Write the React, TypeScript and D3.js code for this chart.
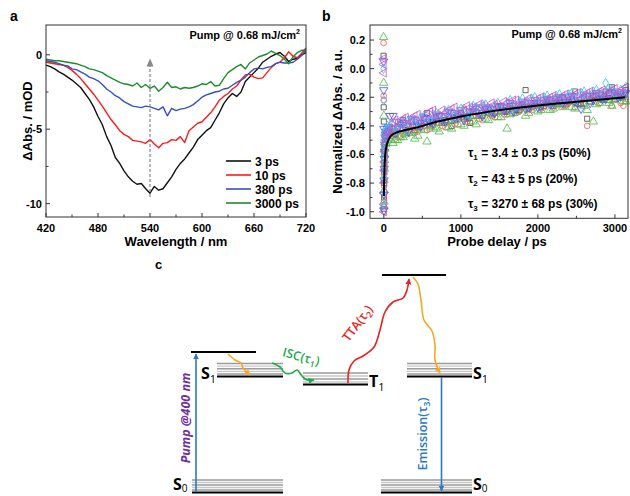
import React from 'react';
import * as d3 from 'd3';

// ---------- Panel a data ----------
const wavelengths = [420,425,430,435,440,445,450,455,460,465,470,475,480,485,490,495,500,505,510,515,520,525,530,535,540,545,550,555,560,565,570,575,580,585,590,595,600,605,610,615,620,625,630,635,640,645,650,655,660,665,670,675,680,685,690,695,700,705,710,715,720];
const abs3ps = [-0.7,-0.8,-0.95,-1.15,-1.3,-1.5,-1.7,-1.95,-2.2,-2.6,-3.0,-3.5,-4.15,-4.7,-5.5,-6.1,-6.9,-7.3,-7.8,-8.2,-8.5,-8.7,-8.65,-9.0,-9.3,-8.85,-9.1,-9.0,-8.6,-8.2,-7.7,-7.3,-7.0,-6.6,-6.2,-5.7,-5.4,-5.1,-4.9,-4.4,-3.9,-3.3,-2.9,-2.6,-2.8,-2.5,-1.8,-1.5,-1.2,-0.9,-0.5,-0.3,-0.1,0.05,0.15,-0.1,-0.45,-0.3,-0.25,0.0,0.15];
const abs10ps = [-0.5,-0.55,-0.6,-0.65,-0.7,-0.85,-1.05,-1.3,-1.6,-1.95,-2.3,-2.65,-3.05,-3.45,-3.9,-4.35,-4.7,-5.1,-5.35,-5.5,-5.75,-5.8,-5.85,-5.95,-5.7,-6.0,-6.25,-5.95,-5.9,-5.7,-5.75,-5.5,-5.9,-5.1,-4.85,-4.6,-4.5,-4.2,-3.9,-3.5,-3.05,-2.8,-2.6,-2.3,-2.1,-1.7,-1.35,-1.3,-1.5,-1.6,-1.55,-1.2,-0.85,-0.6,-0.5,-0.2,0.2,-0.1,-0.2,0.1,0.45];
const abs380ps = [-0.4,-0.45,-0.5,-0.6,-0.7,-0.75,-0.95,-1.0,-1.15,-1.3,-1.5,-1.6,-1.75,-2.0,-2.3,-2.5,-2.75,-2.9,-3.15,-3.3,-3.45,-3.5,-3.55,-3.45,-3.5,-3.6,-3.7,-3.5,-4.1,-3.6,-3.75,-3.65,-3.6,-3.5,-3.35,-3.1,-2.85,-2.7,-2.6,-2.5,-2.45,-2.3,-2.25,-2.05,-1.85,-1.7,-1.5,-1.2,-0.95,-0.9,-0.95,-0.85,-0.8,-0.6,-0.5,-0.55,-0.55,-0.5,-0.3,-0.05,0.3];
const abs3000ps = [-0.3,-0.35,-0.4,-0.4,-0.45,-0.5,-0.55,-0.6,-0.7,-0.8,-0.95,-1.0,-1.1,-1.2,-1.4,-1.55,-1.7,-1.85,-1.95,-2.0,-2.1,-1.9,-2.2,-2.0,-2.25,-2.1,-2.45,-2.2,-1.85,-2.2,-2.15,-2.3,-2.2,-2.25,-2.2,-2.1,-1.95,-2.0,-1.8,-2.1,-2.05,-1.6,-1.2,-1.0,-0.8,-0.65,-0.95,-0.55,-0.35,-0.15,-0.05,0.05,0.25,0.1,-0.05,-0.3,-0.6,-0.15,0.15,0.3,0.3];
const seriesA = [
  { label: '3 ps', values: abs3ps, color: '#111111' },
  { label: '10 ps', values: abs10ps, color: '#ff1a1a' },
  { label: '380 ps', values: abs380ps, color: '#3550c0' },
  { label: '3000 ps', values: abs3000ps, color: '#1f8a2e' },
];
const xTicksA = [420, 480, 540, 600, 660, 720];
const xMinorA = [450, 510, 570, 630, 690];
const yTicksA = [0, -5, -10];
const yMinorA = [-2.5, -7.5];
const arrowWavelength = 540;
const arrowRange = [-9.55, -0.25];

// ---------- Panel b data ----------
const delays = [-4,-2,0,1,2,3,4,6,8,10,15,20,30,45,60,80,120,180,250,320,400,480,560,640,720,800,880,960,1040,1120,1200,1280,1360,1440,1520,1600,1680,1760,1840,1920,2000,2080,2160,2240,2320,2400,2480,2560,2640,2720,2800,2880,2960,3040,3110];
const kinBlack = [0.09,-0.27,-0.37,-0.98,-0.9,-0.8,-0.72,-0.66,-0.6,-0.55,-0.5,-0.47,-0.45,-0.44,-0.43,-0.41,-0.44,-0.41,-0.36,-0.40,-0.43,-0.38,-0.31,-0.37,-0.33,-0.36,-0.40,-0.32,-0.34,-0.38,-0.30,-0.33,-0.29,-0.31,-0.27,-0.30,-0.26,-0.29,-0.15,-0.27,-0.24,-0.26,-0.22,-0.25,-0.20,-0.23,-0.16,-0.24,-0.35,-0.19,-0.21,-0.16,-0.13,-0.18,-0.20];
const kinRed = [0.18,-0.19,-0.22,-1.0,-0.92,-0.82,-0.74,-0.68,-0.62,-0.57,-0.52,-0.49,-0.47,-0.46,-0.45,-0.44,-0.47,-0.44,-0.46,-0.43,-0.45,-0.41,-0.43,-0.40,-0.38,-0.41,-0.36,-0.39,-0.35,-0.37,-0.33,-0.36,-0.31,-0.34,-0.30,-0.32,-0.28,-0.30,-0.26,-0.29,-0.25,-0.27,-0.23,-0.20,-0.26,-0.24,-0.27,-0.25,-0.40,-0.18,-0.24,-0.21,-0.26,-0.19,-0.26];
const kinGreen = [0.22,-0.1,-0.33,-0.96,-0.93,-0.85,-0.78,-0.7,-0.64,-0.6,-0.56,-0.53,-0.52,-0.5,-0.49,-0.47,-0.52,-0.50,-0.48,-0.45,-0.49,-0.42,-0.51,-0.41,-0.44,-0.37,-0.42,-0.35,-0.40,-0.33,-0.39,-0.31,-0.36,-0.30,-0.34,-0.42,-0.31,-0.28,-0.33,-0.26,-0.30,-0.25,-0.29,-0.24,-0.27,-0.23,-0.28,-0.25,-0.29,-0.37,-0.24,-0.22,-0.26,-0.20,-0.23];
const kinBlue = [0.05,-0.15,-0.42,-0.99,-0.88,-0.78,-0.7,-0.63,-0.58,-0.53,-0.48,-0.46,-0.44,-0.42,-0.41,-0.33,-0.33,-0.42,-0.38,-0.44,-0.36,-0.40,-0.35,-0.38,-0.33,-0.37,-0.31,-0.34,-0.36,-0.30,-0.27,-0.33,-0.28,-0.31,-0.26,-0.29,-0.30,-0.25,-0.28,-0.24,-0.27,-0.22,-0.25,-0.21,-0.24,-0.20,-0.23,-0.28,-0.19,-0.22,-0.18,-0.21,-0.17,-0.20,-0.18];
const kinCyan = [0.0,-0.22,-0.45,-0.97,-0.86,-0.76,-0.69,-0.62,-0.57,-0.52,-0.49,-0.45,-0.43,-0.4,-0.42,-0.4,-0.40,-0.43,-0.39,-0.36,-0.38,-0.34,-0.37,-0.32,-0.35,-0.30,-0.34,-0.31,-0.28,-0.32,-0.27,-0.25,-0.29,-0.26,-0.28,-0.24,-0.27,-0.23,-0.25,-0.21,-0.24,-0.20,-0.23,-0.19,-0.22,-0.18,-0.21,-0.17,-0.20,-0.16,-0.19,-0.10,-0.15,-0.18,-0.16];
const kinMagenta = [0.07,0.03,-0.03,-1.0,-0.95,-0.87,-0.8,-0.71,-0.65,-0.58,-0.53,-0.5,-0.48,-0.45,-0.44,-0.42,-0.38,-0.40,-0.35,-0.39,-0.33,-0.37,-0.32,-0.29,-0.34,-0.31,-0.28,-0.33,-0.29,-0.27,-0.31,-0.26,-0.29,-0.25,-0.28,-0.24,-0.22,-0.27,-0.23,-0.25,-0.21,-0.24,-0.20,-0.23,-0.19,-0.22,-0.18,-0.21,-0.17,-0.20,-0.16,-0.19,-0.15,-0.17,-0.14];
// second (interleaved) set of delays and readings
const delays2 = [150,215,285,360,440,520,600,680,760,840,920,1000,1080,1160,1240,1320,1400,1480,1560,1640,1720,1800,1880,1960,2040,2120,2200,2280,2360,2440,2520,2600,2680,2760,2840,2920,3000,3075,3140];
const kinBlack2 = [-0.46,-0.39,-0.43,-0.37,-0.41,-0.35,-0.39,-0.34,-0.38,-0.33,-0.36,-0.31,-0.35,-0.30,-0.33,-0.28,-0.32,-0.27,-0.30,-0.26,-0.29,-0.25,-0.28,-0.24,-0.27,-0.23,-0.26,-0.22,-0.25,-0.21,-0.24,-0.20,-0.23,-0.19,-0.22,-0.17,-0.21,-0.19,-0.15];
const kinRed2 = [-0.49,-0.47,-0.44,-0.42,-0.44,-0.40,-0.42,-0.38,-0.40,-0.37,-0.39,-0.34,-0.37,-0.33,-0.35,-0.31,-0.33,-0.30,-0.32,-0.28,-0.31,-0.27,-0.29,-0.26,-0.28,-0.24,-0.27,-0.23,-0.26,-0.22,-0.25,-0.24,-0.21,-0.23,-0.20,-0.22,-0.19,-0.24,-0.21];
const kinGreen2 = [-0.50,-0.48,-0.46,-0.44,-0.47,-0.43,-0.40,-0.42,-0.38,-0.41,-0.36,-0.39,-0.34,-0.37,-0.33,-0.35,-0.31,-0.34,-0.29,-0.32,-0.30,-0.27,-0.31,-0.26,-0.29,-0.24,-0.28,-0.25,-0.22,-0.27,-0.24,-0.26,-0.23,-0.25,-0.21,-0.24,-0.22,-0.20,-0.23];
const kinBlue2 = [-0.45,-0.37,-0.41,-0.35,-0.39,-0.34,-0.37,-0.32,-0.36,-0.30,-0.34,-0.29,-0.33,-0.28,-0.31,-0.27,-0.30,-0.26,-0.29,-0.24,-0.28,-0.23,-0.27,-0.22,-0.26,-0.21,-0.24,-0.20,-0.23,-0.19,-0.22,-0.18,-0.24,-0.17,-0.21,-0.18,-0.16,-0.19,-0.17];
const kinCyan2 = [-0.41,-0.38,-0.42,-0.35,-0.37,-0.33,-0.36,-0.31,-0.34,-0.29,-0.32,-0.28,-0.31,-0.26,-0.30,-0.25,-0.28,-0.24,-0.27,-0.22,-0.26,-0.21,-0.24,-0.20,-0.23,-0.19,-0.22,-0.18,-0.21,-0.17,-0.20,-0.16,-0.19,-0.15,-0.18,-0.14,-0.17,-0.15,-0.13];
const kinMagenta2 = [-0.36,-0.39,-0.34,-0.37,-0.32,-0.36,-0.30,-0.34,-0.29,-0.32,-0.27,-0.31,-0.26,-0.29,-0.25,-0.28,-0.24,-0.27,-0.23,-0.26,-0.22,-0.25,-0.21,-0.24,-0.20,-0.23,-0.19,-0.22,-0.18,-0.21,-0.17,-0.20,-0.16,-0.19,-0.15,-0.18,-0.14,-0.17,-0.13];
const seriesB = [
  { values: kinBlack, values2: kinBlack2, color: '#444444', shape: 'square' },
  { values: kinRed, values2: kinRed2, color: '#ff5555', shape: 'circle' },
  { values: kinGreen, values2: kinGreen2, color: '#44bb44', shape: 'up' },
  { values: kinBlue, values2: kinBlue2, color: '#4b4bff', shape: 'down' },
  { values: kinCyan, values2: kinCyan2, color: '#30c8ee', shape: 'diamond' },
  { values: kinMagenta, values2: kinMagenta2, color: '#cc55cc', shape: 'left' },
];
const fitDelay = [0, 3, 8, 15, 30, 60, 100, 200, 400, 700, 1000, 1500, 2000, 2500, 3000, 3130];
const fitValue = [-0.89, -0.8, -0.7, -0.62, -0.55, -0.5, -0.465, -0.44, -0.415, -0.37, -0.335, -0.29, -0.258, -0.232, -0.207, -0.2];
const xTicksB = [0, 1000, 2000, 3000];
const xMinorB = [500, 1500, 2500];
const yTicksB = [0.2, 0.0, -0.2, -0.4, -0.6, -0.8, -1.0];
const yMinorB = [0.1, -0.1, -0.3, -0.5, -0.7, -0.9];
const tauLabels = [
  { sub: '1', text: ' = 3.4 \u00b1 0.3 ps (50%)' },
  { sub: '2', text: ' = 43 \u00b1 5 ps (20%)' },
  { sub: '3', text: ' = 3270 \u00b1 68 ps (30%)' },
];

const FONT = '"Liberation Sans", Arial, sans-serif';
const CFONT = '"Open Sans", "Noto Sans", sans-serif';

function PanelA() {
  const x = d3.scaleLinear().domain([420, 720]).range([46, 306]);
  const y = d3.scaleLinear().domain([2, -10.9]).range([25, 217]);
  const [x0, x1] = x.range();
  const [y0, y1] = y.range();
  const line = d3.line<number>().x((_, i) => x(wavelengths[i])).y((d) => y(d));
  return (
    <g fontFamily={FONT}>
      <text x={10} y={21} fontSize={14} fontWeight="bold">a</text>
      {seriesA.map((s) => (
        <path key={s.label} d={line(s.values) || ''} fill="none" stroke={s.color} strokeWidth={1.4} strokeLinejoin="round" />
      ))}
      <line x1={x(arrowWavelength)} x2={x(arrowWavelength)} y1={y(arrowRange[0])} y2={y(arrowRange[1]) + 6} stroke="#888" strokeWidth={1.2} strokeDasharray="3,2" />
      <path d={`M${x(arrowWavelength)},${y(arrowRange[1])} l-3.5,8 l7,0 z`} fill="#888" />
      <rect x={x0} y={y0} width={x1 - x0} height={y1 - y0} fill="none" stroke="#333" strokeWidth={1} />
      {xTicksA.map((t) => (
        <g key={t}>
          <line x1={x(t)} x2={x(t)} y1={y1} y2={y1 - 4} stroke="#333" />
          <text x={x(t)} y={232} fontSize={11} fontWeight="bold" textAnchor="middle">{t}</text>
        </g>
      ))}
      {xMinorA.map((t) => (
        <line key={t} x1={x(t)} x2={x(t)} y1={y1} y2={y1 - 2.5} stroke="#333" />
      ))}
      {yTicksA.map((t) => (
        <g key={t}>
          <line x1={x0} x2={x0 + 4} y1={y(t)} y2={y(t)} stroke="#333" />
          <text x={42} y={y(t) + 4} fontSize={11} fontWeight="bold" textAnchor="end">{t === 0 ? '0' : '-' + Math.abs(t)}</text>
        </g>
      ))}
      {yMinorA.map((t) => (
        <line key={t} x1={x0} x2={x0 + 2.5} y1={y(t)} y2={y(t)} stroke="#333" />
      ))}
      <text x={(x0 + x1) / 2} y={246} fontSize={13} fontWeight="bold" textAnchor="middle">Wavelength / nm</text>
      <text transform={`translate(32,${(y0 + y1) / 2}) rotate(-90)`} fontSize={13} fontWeight="bold" textAnchor="middle">{'\u0394Abs. / mOD'}</text>
      <text x={300} y={39} fontSize={11} fontWeight="bold" textAnchor="end">Pump @ 0.68 mJ/cm<tspan dy={-5} fontSize={7}>2</tspan></text>
      {seriesA.map((s, i) => (
        <g key={s.label}>
          <line x1={226} x2={251} y1={161 + i * 14} y2={161 + i * 14} stroke={s.color} strokeWidth={1.6} />
          <text x={255} y={165.5 + i * 14} fontSize={12} fontWeight="bold">{s.label}</text>
        </g>
      ))}
    </g>
  );
}

function symbolPath(shape: string) {
  switch (shape) {
    case 'square': return { d: d3.symbol(d3.symbolSquare, 26)() || '', r: 0 };
    case 'circle': return { d: d3.symbol(d3.symbolCircle, 26)() || '', r: 0 };
    case 'up': return { d: d3.symbol(d3.symbolTriangle, 30)() || '', r: 0 };
    case 'down': return { d: d3.symbol(d3.symbolTriangle, 30)() || '', r: 180 };
    case 'diamond': return { d: d3.symbol(d3.symbolDiamond, 26)() || '', r: 0 };
    default: return { d: d3.symbol(d3.symbolTriangle, 30)() || '', r: -90 };
  }
}

function PanelB() {
  const x = d3.scaleLinear().domain([-180, 3170]).range([370, 628]);
  const y = d3.scaleLinear().domain([0.305, -1.046]).range([25, 218.3]);
  const [x0, x1] = x.range();
  const [y0, y1] = y.range();
  const fit = d3.line<number>().x((_, i) => x(fitDelay[i])).y((d) => y(d)).curve(d3.curveMonotoneX);
  return (
    <g fontFamily={FONT}>
      <text x={322} y={21} fontSize={14} fontWeight="bold">b</text>
      {seriesB.map((s, si) => {
        const sym = symbolPath(s.shape);
        return (
          <g key={si}>
            {s.values.map((v, i) => (
              <path key={'a' + i} d={sym.d} transform={`translate(${x(delays[i])},${y(v)}) rotate(${sym.r})`} fill="none" stroke={s.color} strokeWidth={0.8} />
            ))}
            {s.values2.map((v, i) => (
              <path key={'b' + i} d={sym.d} transform={`translate(${x(delays2[i])},${y(v)}) rotate(${sym.r})`} fill="none" stroke={s.color} strokeWidth={0.8} />
            ))}
          </g>
        );
      })}
      <path d={fit(fitValue) || ''} fill="none" stroke="#000" strokeWidth={2} />
      <rect x={x0} y={y0} width={x1 - x0} height={y1 - y0} fill="none" stroke="#333" strokeWidth={1} />
      {xTicksB.map((t) => (
        <g key={t}>
          <line x1={x(t)} x2={x(t)} y1={y1} y2={y1 - 4} stroke="#333" />
          <text x={x(t)} y={232} fontSize={11} fontWeight="bold" textAnchor="middle">{t}</text>
        </g>
      ))}
      {xMinorB.map((t) => (
        <line key={t} x1={x(t)} x2={x(t)} y1={y1} y2={y1 - 2.5} stroke="#333" />
      ))}
      {yTicksB.map((t) => (
        <g key={t}>
          <line x1={x0} x2={x0 + 4} y1={y(t)} y2={y(t)} stroke="#333" />
          <text x={365} y={y(t) + 4} fontSize={11} fontWeight="bold" textAnchor="end">{t.toFixed(1)}</text>
        </g>
      ))}
      {yMinorB.map((t) => (
        <line key={t} x1={x0} x2={x0 + 2.5} y1={y(t)} y2={y(t)} stroke="#333" />
      ))}
      <text x={497} y={246} fontSize={13} fontWeight="bold" textAnchor="middle">Probe delay / ps</text>
      <text transform={`translate(342,${(y0 + y1) / 2}) rotate(-90)`} fontSize={13} fontWeight="bold" textAnchor="middle">{'Normalized \u0394Abs. / a.u.'}</text>
      <text x={622} y={38} fontSize={11} fontWeight="bold" textAnchor="end">Pump @ 0.68 mJ/cm<tspan dy={-5} fontSize={7}>2</tspan></text>
      {tauLabels.map((t, i) => (
        <text key={i} x={468} y={157 + i * 25.5} fontSize={12} fontWeight="bold">
          {'\u03c4'}<tspan dy={3} fontSize={8}>{t.sub}</tspan><tspan dy={-3}>{t.text}</tspan>
        </text>
      ))}
    </g>
  );
}

function Levels({ x1, x2, top, bottom, n }: { x1: number; x2: number; top: number; bottom: number; n: number }) {
  const step = (bottom - 2.5 - top) / (n - 1);
  return (
    <g>
      {d3.range(n).map((i) => (
        <line key={i} x1={x1} x2={x2} y1={top + i * step} y2={top + i * step} stroke={i % 2 === 0 ? '#9a9a9a' : '#c8c8c8'} strokeWidth={1.3} />
      ))}
      <line x1={x1} x2={x2} y1={bottom} y2={bottom} stroke="#000" strokeWidth={2} />
    </g>
  );
}

function PanelC() {
  const wavy = d3.line().curve(d3.curveCatmullRom.alpha(0.5));
  const orangeL: [number, number][] = [[228, 354], [235, 360], [241, 363], [243, 368], [247, 372], [250, 375]];
  const greenISC: [number, number][] = [[272, 363], [280, 367], [285, 373], [292, 373], [297, 370], [302, 376], [307, 380], [314, 380]];
  const redTTA: [number, number][] = [[348, 383], [349, 370], [354, 361], [363, 356], [374, 347], [380, 330], [385, 312], [393, 302], [403, 298], [407, 290], [409, 279]];
  const orangeR: [number, number][] = [[413, 277], [418, 284], [421, 300], [424, 320], [432, 331], [435, 345], [435, 360], [438, 369], [440, 373]];
  const blue = '#2b78c6';
  const orange = '#f7a823';
  return (
    <g fontFamily={CFONT}>
      <defs>
        <marker id="ah-blue" viewBox="0 0 10 10" refX="9" refY="5" markerWidth="6" markerHeight="6" orient="auto-start-reverse" markerUnits="userSpaceOnUse">
          <path d="M0,0 L10,5 L0,10 z" fill={blue} />
        </marker>
        <marker id="ah-orange" viewBox="0 0 10 10" refX="9" refY="5" markerWidth="6" markerHeight="6" orient="auto" markerUnits="userSpaceOnUse">
          <path d="M0,0 L10,5 L0,10 z" fill={orange} />
        </marker>
        <marker id="ah-green" viewBox="0 0 10 10" refX="9" refY="5" markerWidth="6" markerHeight="6" orient="auto" markerUnits="userSpaceOnUse">
          <path d="M0,0 L10,5 L0,10 z" fill="#22aa4a" />
        </marker>
        <marker id="ah-red" viewBox="0 0 10 10" refX="9" refY="5" markerWidth="6" markerHeight="6" orient="auto" markerUnits="userSpaceOnUse">
          <path d="M0,0 L10,5 L0,10 z" fill="#ee2020" />
        </marker>
      </defs>
      <text x={155} y={269} fontSize={13} fontWeight="bold" fontFamily={FONT}>c</text>
      {/* left column */}
      <line x1={191} x2={256} y1={352} y2={352} stroke="#000" strokeWidth={2} />
      <Levels x1={217} x2={283} top={363.5} bottom={376.5} n={5} />
      <Levels x1={192} x2={283} top={480} bottom={492.5} n={5} />
      {/* T1 */}
      <Levels x1={303} x2={368} top={373} bottom={384.5} n={4} />
      {/* top TTA level */}
      <line x1={382} x2={446} y1={275} y2={275} stroke="#000" strokeWidth={2} />
      {/* right column */}
      <Levels x1={407} x2={472} top={363.5} bottom={376.5} n={5} />
      <Levels x1={381} x2={472} top={480} bottom={492.5} n={5} />
      {/* pump */}
      <line x1={196} x2={196} y1={492} y2={354} stroke={blue} strokeWidth={1.6} markerEnd="url(#ah-blue)" />
      <text transform="translate(190,418) rotate(-90)" fontSize={12.5} fontWeight="bold" fontStyle="italic" fill="#7030a0" textAnchor="middle">Pump @400 nm</text>
      {/* emission */}
      <line x1={441.5} x2={441.5} y1={377} y2={491} stroke={blue} strokeWidth={1.6} markerEnd="url(#ah-blue)" />
      <text transform="translate(427,434) rotate(-90)" fontSize={12.5} fontWeight="600" fill={blue} textAnchor="middle">Emission(<tspan>{'\u03c4'}</tspan><tspan dy={3} fontSize={8.5}>3</tspan><tspan dy={-3}>)</tspan></text>
      {/* wavy arrows */}
      <path d={wavy(orangeL) || ''} fill="none" stroke={orange} strokeWidth={1.6} markerEnd="url(#ah-orange)" />
      <path d={wavy(greenISC) || ''} fill="none" stroke="#22aa4a" strokeWidth={1.6} markerEnd="url(#ah-green)" />
      <path d={wavy(redTTA) || ''} fill="none" stroke="#ee2020" strokeWidth={1.6} markerEnd="url(#ah-red)" />
      <path d={wavy(orangeR) || ''} fill="none" stroke={orange} strokeWidth={1.6} markerEnd="url(#ah-orange)" />
      <text transform="translate(300,361) rotate(15)" fontSize={12.5} fontWeight="600" fill="#22aa4a" textAnchor="middle">ISC(<tspan>{'\u03c4'}</tspan><tspan dy={3} fontSize={8.5}>1</tspan><tspan dy={-3}>)</tspan></text>
      <text transform="translate(361,326) rotate(-53)" fontSize={12.5} fontWeight="600" fill="#ee2020" textAnchor="middle">TTA(<tspan>{'\u03c4'}</tspan><tspan dy={3} fontSize={8.5}>2</tspan><tspan dy={-3}>)</tspan></text>
      {/* state labels */}
      <text x={201} y={379} fontSize={16} fontWeight="bold">S<tspan dy={4} fontSize={11} fontWeight="normal">1</tspan></text>
      <text x={369} y={387} fontSize={16} fontWeight="bold">T<tspan dy={4} fontSize={11} fontWeight="normal">1</tspan></text>
      <text x={473} y={379} fontSize={16} fontWeight="bold">S<tspan dy={4} fontSize={11} fontWeight="normal">1</tspan></text>
      <text x={173} y={490} fontSize={16} fontWeight="bold">S<tspan dy={2} fontSize={10} fontWeight="normal">0</tspan></text>
      <text x={473} y={490} fontSize={16} fontWeight="bold">S<tspan dy={2} fontSize={10} fontWeight="normal">0</tspan></text>
    </g>
  );
}

export default function App() {
  return (
    <svg width={630} height={496} style={{ position: 'absolute', left: 0, top: 0, background: '#fff' }}>
      <rect width={630} height={496} fill="#fff" />
      <PanelA />
      <PanelB />
      <PanelC />
    </svg>
  );
}
